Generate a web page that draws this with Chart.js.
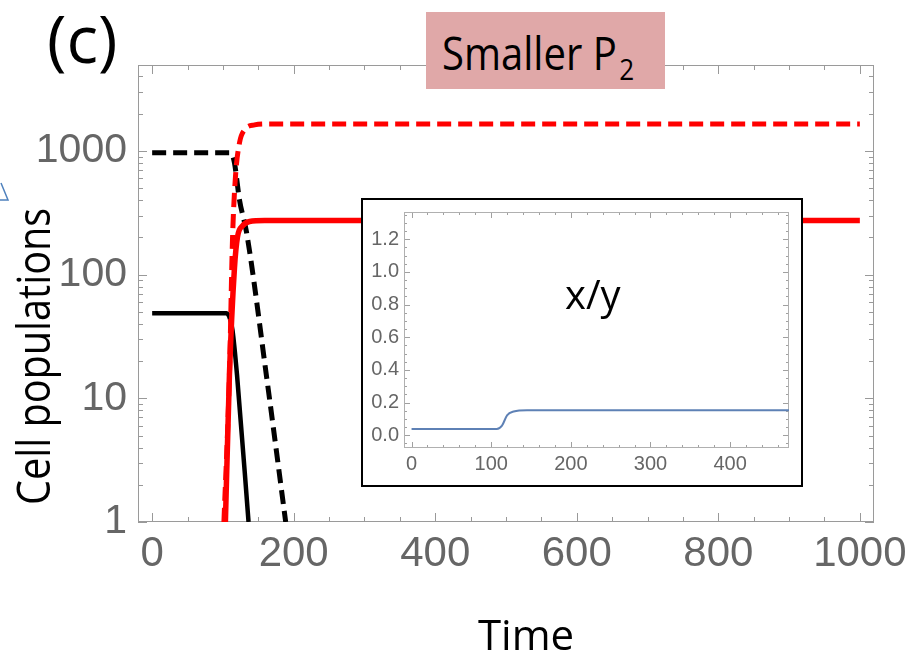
<!DOCTYPE html>
<html>
<head>
<meta charset="utf-8">
<script src="https://cdn.jsdelivr.net/npm/chart.js@4.4.1/dist/chart.umd.min.js"></script>
<style>
  body { margin: 0; background: #fff; }
  #figure { position: relative; width: 912px; height: 654px; overflow: hidden; background: #fff; font-family: 'Open Sans', sans-serif; }
  #main { position: absolute; left: 0; top: 0; display: block; }
  .txt { position: absolute; white-space: nowrap; color: #000; }
  #panel { left: 47px; top: 4px; font-size: 66px; line-height: 66px; }
  #titleBox { position: absolute; left: 426px; top: 12px; width: 239px; height: 77px; background: #e0a8a8; }
  #title { left: 442px; top: 29px; font-size: 46px; line-height: 46px; transform: scaleX(0.87); transform-origin: left top; }
  #title span { font-size: 30px; position: relative; top: 10px; margin-left: 3px; }
  #ylabel { left: 10px; top: 505px; font-size: 45px; line-height: 45px; transform: rotate(-90deg) scaleX(0.88); transform-origin: left top; }
  #xlabel { left: 426px; top: 613px; width: 200px; text-align: center; font-size: 42px; line-height: 42px; }
  #inset { position: absolute; left: 361px; top: 198px; width: 438px; height: 285px; border: 2px solid #000; background: #fff; }
  #inset canvas { display: block; }
  #ratioLabel { left: 565px; top: 274px; font-size: 40px; line-height: 40px; }
  #arrow { position: absolute; left: 0; top: 176px; }
</style>
</head>
<body>
<div id="figure">
  <canvas id="main" width="912" height="654"></canvas>
  <svg id="arrow" width="14" height="30"><polyline points="1,7 8,24 0,24" fill="none" stroke="#4f81bd" stroke-width="1.5"/></svg>
  <div class="txt" id="panel">(c)</div>
  <div id="titleBox"></div>
  <div class="txt" id="title">Smaller P<span>2</span></div>
  <div class="txt" id="ylabel">Cell populations</div>
  <div class="txt" id="xlabel">Time</div>
  <div id="inset"><canvas id="ratio" width="438" height="285"></canvas></div>
  <div class="txt" id="ratioLabel">x/y</div>
</div>
<script>
// main panel, log scale
const timeTicks = [0, 200, 400, 600, 800, 1000];
const populationTicks = [1, 10, 100, 1000];

const redSolidTime = [103.5, 109.2, 116.3, 120.6, 127.7, 137.6, 158.9, 1000];
const redSolidCells = [1, 15.5, 113, 202, 248, 269, 274, 274];

const redDashedTime = [101.4, 109.2, 113.5, 117.7, 123.4, 130.5, 144.7, 161.7, 1000];
const redDashedCells = [1, 15.5, 190, 616, 1161, 1479, 1623, 1653, 1653];

const blackSolidTime = [0, 105, 110, 113.5, 119.9, 136.2];
const blackSolidCells = [48.7, 48.7, 44, 35.7, 15.5, 1];

const blackDashedTime = [0, 109, 112, 116.3, 123.4, 133.3, 161.7, 188.7];
const blackDashedCells = [965, 965, 955, 800, 402, 221, 14.9, 1];

// inset: x/y ratio
const ratioTime = [0, 107, 113.6, 119.9, 128.2, 145, 474];
const ratioValues = [0.039, 0.039, 0.059, 0.122, 0.145, 0.153, 0.153];
const ratioTimeTicks = [0, 100, 200, 300, 400];
const ratioTicks = [0, 0.2, 0.4, 0.6, 0.8, 1.0, 1.2];

const pairs = (xs, ys) => xs.map((x, i) => ({ x, y: ys[i] }));

// inward ticks on all four sides plus the frame
const frameTicks = {
    id: 'frameTicks',
    beforeDatasetsDraw(chart, args, opts) {
        const { ctx, chartArea: a, scales } = chart;
        ctx.save();
        ctx.lineWidth = 1;
        ctx.strokeStyle = opts.tickColor;
        ctx.beginPath();
        opts.x.forEach(([v, len]) => {
            const px = Math.round(scales.x.getPixelForValue(v)) + 0.5;
            ctx.moveTo(px, a.bottom); ctx.lineTo(px, a.bottom - len);
            ctx.moveTo(px, a.top); ctx.lineTo(px, a.top + len);
        });
        opts.y.forEach(([v, len]) => {
            const py = Math.round(scales.y.getPixelForValue(v)) + 0.5;
            ctx.moveTo(a.left, py); ctx.lineTo(a.left + len, py);
            ctx.moveTo(a.right, py); ctx.lineTo(a.right - len, py);
        });
        ctx.stroke();
        ctx.strokeStyle = opts.frameColor;
        ctx.strokeRect(Math.round(a.left) + 0.5, Math.round(a.top) + 0.5, Math.round(a.width) - 1, Math.round(a.height) - 1);
        ctx.restore();
    }
};

const mainXMarks = [];
for (let v = 0; v <= 1000; v += 50) mainXMarks.push([v, v % 200 === 0 ? 9 : 5]);
const mainYMarks = [];
for (let d = 1; d <= 1000; d *= 10) {
    for (let m = 1; m <= 9; m++) {
        if (d * m < 4950) mainYMarks.push([d * m, m === 1 ? 9 : 5]);
    }
}

const lineStyle = { pointRadius: 0, cubicInterpolationMode: 'monotone', fill: false };

new Chart(document.getElementById('main'), {
    type: 'line',
    data: {
        datasets: [
            { ...lineStyle, data: pairs(redSolidTime, redSolidCells), borderColor: '#ff0000', borderWidth: 5.5 },
            { ...lineStyle, data: pairs(redDashedTime, redDashedCells), borderColor: '#ff0000', borderWidth: 5, borderDash: [14, 7] },
            { ...lineStyle, data: pairs(blackSolidTime, blackSolidCells), borderColor: '#000000', borderWidth: 4.5 },
            { ...lineStyle, data: pairs(blackDashedTime, blackDashedCells), borderColor: '#000000', borderWidth: 5, borderDash: [14, 7] },
        ],
    },
    options: {
        responsive: false,
        animation: false,
        devicePixelRatio: 1,
        layout: { padding: { top: 65, right: 38, left: 0, bottom: 0 } },
        plugins: {
            legend: { display: false },
            tooltip: { enabled: false },
            frameTicks: { x: mainXMarks, y: mainYMarks, tickColor: '#999999', frameColor: '#9a9a9a' },
        },
        scales: {
            x: {
                type: 'linear', min: -20, max: 1020,
                grid: { display: false, drawTicks: false },
                border: { display: false },
                afterBuildTicks: (s) => { s.ticks = timeTicks.map((value) => ({ value })); },
                afterFit: (s) => { s.height = 132; },
                ticks: {
                    autoSkip: false, maxRotation: 0, padding: 4, color: '#666666',
                    font: { family: 'Liberation Sans', size: 42, lineHeight: 1.33 },
                    callback: (v) => String(v),
                },
            },
            y: {
                type: 'logarithmic', min: 1, max: 4950,
                grid: { display: false, drawTicks: false },
                border: { display: false },
                afterBuildTicks: (s) => { s.ticks = populationTicks.map((value) => ({ value })); },
                afterFit: (s) => { s.width = 138; },
                ticks: {
                    autoSkip: false, padding: 11, color: '#666666',
                    font: { family: 'Liberation Sans', size: 41, lineHeight: 1 },
                    callback: (v) => String(v),
                },
            },
        },
    },
    plugins: [frameTicks],
});

const insetXMarks = [];
for (let v = 0; v <= 460; v += 20) insetXMarks.push([v, v % 100 === 0 ? 6 : 3]);
const insetYMarks = [];
for (let k = -1; k <= 27; k++) insetYMarks.push([k * 0.05, k % 4 === 0 ? 6 : 3]);

new Chart(document.getElementById('ratio'), {
    type: 'line',
    data: {
        datasets: [
            { ...lineStyle, data: pairs(ratioTime, ratioValues), borderColor: '#5e81b5', borderWidth: 2 },
        ],
    },
    options: {
        responsive: false,
        animation: false,
        devicePixelRatio: 1,
        layout: { padding: { top: 12, right: 12, left: 0, bottom: 0 } },
        plugins: {
            legend: { display: false },
            tooltip: { enabled: false },
            frameTicks: { x: insetXMarks, y: insetYMarks, tickColor: '#a0a0a0', frameColor: '#b0b0b0' },
        },
        scales: {
            x: {
                type: 'linear', min: -9.5, max: 474,
                grid: { display: false, drawTicks: false },
                border: { display: false },
                afterBuildTicks: (s) => { s.ticks = ratioTimeTicks.map((value) => ({ value })); },
                afterFit: (s) => { s.height = 37; },
                ticks: {
                    autoSkip: false, maxRotation: 0, padding: 4, color: '#666666',
                    font: { family: 'Liberation Sans', size: 20, lineHeight: 1.2 },
                    callback: (v) => String(v),
                },
            },
            y: {
                type: 'linear', min: -0.078, max: 1.367,
                grid: { display: false, drawTicks: false },
                border: { display: false },
                afterBuildTicks: (s) => { s.ticks = ratioTicks.map((value) => ({ value })); },
                afterFit: (s) => { s.width = 41; },
                ticks: {
                    autoSkip: false, padding: 5, color: '#666666',
                    font: { family: 'Liberation Sans', size: 20, lineHeight: 0.5 },
                    callback: (v) => v.toFixed(1),
                },
            },
        },
    },
    plugins: [frameTicks],
});
</script>
</body>
</html>
